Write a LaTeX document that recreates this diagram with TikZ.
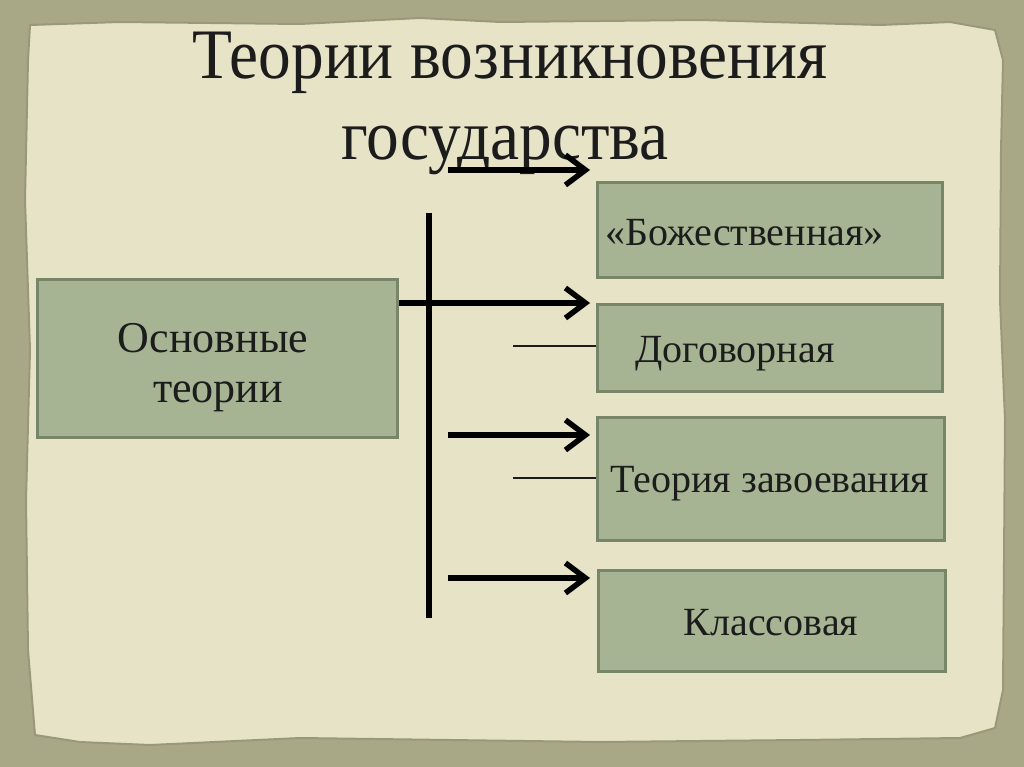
\documentclass[tikz,border=0pt]{standalone}
\usepackage{fontspec}
\setmainfont{Liberation Serif}
\usetikzlibrary{arrows.meta}
\definecolor{frame}{HTML}{A9A886}
\definecolor{paper}{HTML}{E6E3C6}
\definecolor{paperedge}{HTML}{9A987A}
\definecolor{boxfill}{HTML}{A6B493}
\definecolor{boxline}{HTML}{778668}
\definecolor{ink}{HTML}{1C1C1C}
\begin{document}
\begin{tikzpicture}[x=1pt,y=-1pt,
  box/.style={draw=boxline,line width=3pt,fill=boxfill,anchor=north west,inner sep=0pt},
  boxtext/.style={text=ink,font=\fontsize{40}{46}\selectfont,anchor=base,inner sep=0pt},
  titletext/.style={text=ink,font=\fontsize{71}{76}\selectfont,anchor=base,inner sep=0pt},
  bigarrow/.style={line width=5.5pt,-{Straight Barb[length=20pt,width=30pt]}},
  thinline/.style={line width=1.2pt,draw=ink}]
\useasboundingbox (0,0) rectangle (1024,767);
% background
\fill[frame] (0,0) rectangle (1024,767);
\fill[paper,draw=paperedge,line width=2pt]
 (30,25) -- (120,22) -- (300,24) -- (420,18) -- (500,22) -- (700,20) -- (880,25) -- (950,22)
 -- (995,30) -- (1003,60) -- (1001,150) -- (1000,300) -- (1005,420) -- (1004,560) -- (1003,690)
 -- (995,728) -- (960,738) -- (800,740) -- (600,742) -- (300,738) -- (150,745) -- (80,742)
 -- (35,735) -- (28,650) -- (26,500) -- (30,350) -- (25,200) -- (28,60) -- cycle;
% title
\node[titletext] (t1) at (510,79) {\scalebox{0.92}[1]{Теории возникновения}};
\node[titletext] (t2) at (505,160) {\scalebox{0.92}[1]{государства}};
% boxes
\node[box,minimum width=360pt,minimum height=158pt] (main) at (36,278) {};
\node[box,minimum width=345pt,minimum height=95pt] (b1) at (596,181) {};
\node[box,minimum width=345pt,minimum height=87pt] (b2) at (596,303) {};
\node[box,minimum width=347pt,minimum height=123pt] (b3) at (596,416) {};
\node[box,minimum width=347pt,minimum height=101pt] (b4) at (597,569) {};
% box texts
\node[boxtext,font=\fontsize{44}{50}\selectfont] (m1) at (213,352) {Основные};
\node[boxtext,font=\fontsize{44}{50}\selectfont] (m2) at (218,402) {теории};
\node[boxtext,anchor=base west] (l1) at (605,245) {«Божественная»};
\node[boxtext] (l2) at (735,362) {Договорная};
\node[boxtext] (l3) at (770,492) {Теория завоевания};
\node[boxtext] (l4) at (771,635) {Классовая};
% connector coordinates
\coordinate (vtop) at (429,213);
\coordinate (vbot) at (429,618);
\coordinate (s1) at (448,170);
\coordinate (e1) at (590,170);
\coordinate (e2) at (590,303);
\coordinate (s3) at (448,435);
\coordinate (e3) at (590,435);
\coordinate (s4) at (448,578);
\coordinate (e4) at (590,578);
\coordinate (d2) at (513,346);
\coordinate (d3) at (513,478);
% vertical bar
\draw[line width=6pt] (vtop) -- (vbot);
% arrows
\draw[bigarrow] (s1) -- (e1);
\draw[bigarrow] (main.east |- e2) -- (e2);
\draw[bigarrow] (s3) -- (e3);
\draw[bigarrow] (s4) -- (e4);
% thin lines
\draw[thinline] (d2) -- (b2.west |- d2);
\draw[thinline] (d3) -- (b3.west |- d3);
\end{tikzpicture}
\end{document}
